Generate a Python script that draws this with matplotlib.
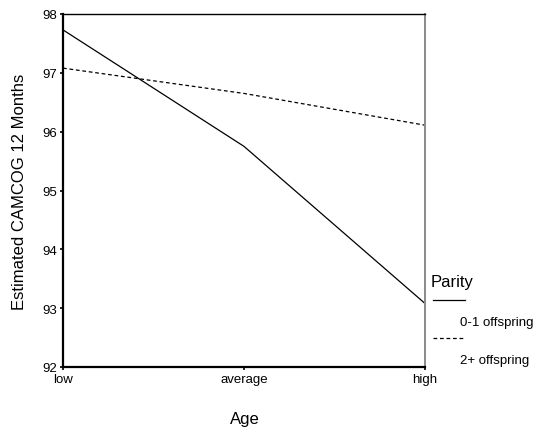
import matplotlib
matplotlib.use("Agg")
import matplotlib.pyplot as plt
from matplotlib.lines import Line2D

plt.rcParams['font.family'] = ['Liberation Sans', 'DejaVu Sans']

age_levels = ["low", "average", "high"]
parity_groups = ["0-1 offspring", "2+ offspring"]
camcog_low_parity = [97.73, 95.75, 93.08]
camcog_high_parity = [97.08, 96.65, 96.11]
y_ticks = [92, 93, 94, 95, 96, 97, 98]

W, H = 536, 431
fig = plt.figure(figsize=(W / 100, H / 100), dpi=100)
ax = fig.add_axes([63 / W, 1 - 368 / H, (425 - 63) / W, (368 - 15) / H])

x = list(range(len(age_levels)))
ax.plot(x, camcog_low_parity, color="black", lw=0.9, solid_joinstyle="miter")
ax.plot(x, camcog_high_parity, color="black", lw=0.9, dashes=(3, 2.2))

ax.set_xlim(0, 2)
ax.set_ylim(92, 98)
ax.set_xticks(x)
ax.set_xticklabels(age_levels)
ax.set_yticks(y_ticks)
ax.tick_params(axis="both", direction="out", length=2, width=1.2, labelsize=9.5, pad=2, colors="black")

for side in ["left", "bottom"]:
    ax.spines[side].set_linewidth(1.6)
ax.spines["top"].set_linewidth(1.0)
ax.spines["right"].set_linewidth(1.4)
ax.spines["right"].set_color("#8a8a8a")

ax.set_ylabel("Estimated CAMCOG 12 Months", fontsize=12)
ax.yaxis.set_label_coords(-36 / (425 - 63), 0.5)
fig.text(245 / W, 1 - 420 / H, "Age", fontsize=12, ha="center", va="center")

# legend: title, then each line sample above its label
fig.text(431 / W, 1 - 282 / H, "Parity", fontsize=12, ha="left", va="center")
fig.add_artist(Line2D([433 / W, 465 / W], [1 - 301 / H] * 2, color="black", lw=0.9,
                      transform=fig.transFigure))
fig.text(460 / W, 1 - 323 / H, parity_groups[0], fontsize=9.5, ha="left", va="center")
fig.add_artist(Line2D([433 / W, 465 / W], [1 - 339 / H] * 2, color="black", lw=0.9,
                      dashes=(3, 2.2), transform=fig.transFigure))
fig.text(460 / W, 1 - 361 / H, parity_groups[1], fontsize=9.5, ha="left", va="center")

fig.savefig("out.png", dpi=100)
